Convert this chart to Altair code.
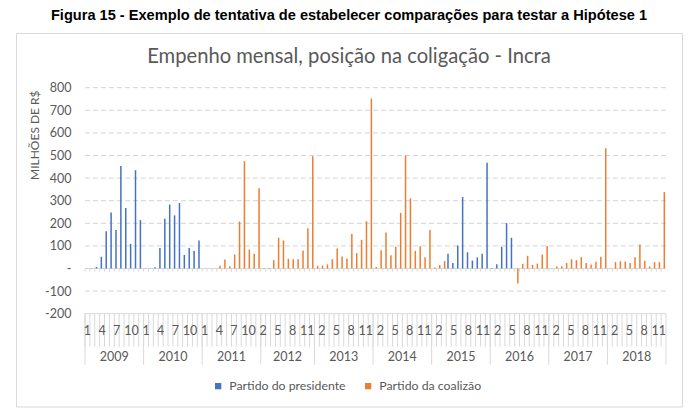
import altair as alt
import pandas as pd

# ---------------- data ----------------
anos = [2009, 2010, 2011, 2012, 2013, 2014, 2015, 2016, 2017, 2018]
meses_ano = list(range(1, 13))
meses_2012 = list(range(2, 13))

v2009 = [1, 1, 7, 52, 165, 248, 170, 453, 268, 109, 435, 214]
v2010 = [1, 1, 5, 91, 220, 283, 235, 290, 60, 91, 77, 124]
v2011 = [0, 0, 0, 12, 40, 10, 62, 208, 475, 84, 65, 355]
v2012 = [2, 2, 37, 136, 124, 43, 41, 41, 80, 178, 497]
v2013 = [12, 13, 18, 41, 88, 53, 44, 153, 68, 127, 209, 752]
v2014 = [7, 81, 159, 59, 96, 246, 500, 310, 78, 99, 50, 170]
v2015 = [4, 15, 33, 65, 24, 102, 316, 72, 35, 49, 65, 468]
v2016 = [2, 19, 96, 201, 136, -66, 21, 56, 16, 22, 62, 100]
v2017 = [1, 9, 10, 24, 41, 37, 50, 24, 18, 30, 52, 532]
v2018 = [1, 28, 32, 31, 24, 50, 106, 34, 9, 28, 28, 338]

s2009 = ["P", "P", "P", "P", "P", "P", "P", "P", "P", "P", "P", "P"]
s2010 = ["P", "P", "P", "P", "P", "P", "P", "P", "P", "P", "P", "P"]
s2011 = ["C", "C", "C", "C", "C", "C", "C", "C", "C", "C", "C", "C"]
s2012 = ["C", "C", "C", "C", "C", "C", "C", "C", "C", "C", "C"]
s2013 = ["C", "C", "C", "C", "C", "C", "C", "C", "C", "C", "C", "C"]
s2014 = ["C", "C", "C", "C", "C", "C", "C", "C", "C", "C", "C", "C"]
s2015 = ["C", "C", "C", "P", "P", "P", "P", "P", "P", "P", "P", "P"]
s2016 = ["P", "P", "P", "P", "P", "C", "C", "C", "C", "C", "C", "C"]
s2017 = ["C", "C", "C", "C", "C", "C", "C", "C", "C", "C", "C", "C"]
s2018 = ["C", "C", "C", "C", "C", "C", "C", "C", "C", "C", "C", "C"]

serie_nomes = {"P": "Partido do presidente", "C": "Partido da coalizão"}
cores = ["#4472C4", "#ED7D31"]

caption = "Figura 15 - Exemplo de tentativa de estabelecer comparações para testar a Hipótese 1"
titulo = "Empenho mensal, posição na coligação - Incra"
y_titulo = "MILHÕES DE R$"
y_ticks = [-200, -100, 0, 100, 200, 300, 400, 500, 600, 700, 800]

valores = [v2009, v2010, v2011, v2012, v2013, v2014, v2015, v2016, v2017, v2018]
series = [s2009, s2010, s2011, s2012, s2013, s2014, s2015, s2016, s2017, s2018]
meses = [meses_2012 if a == 2012 else meses_ano for a in anos]

# ---------------- tables ----------------
rows, cats, years_even, years_odd, year_bounds = [], [], [], [], []
idx = 0
for a, ms, vs, ss in zip(anos, meses, valores, series):
    keys_year = []
    for m, v, s in zip(ms, vs, ss):
        key = f"{a}-{m:02d}"
        keys_year.append(key)
        cats.append({"key": key, "mes": str(m), "idx": idx, "ano": a})
        rows.append({"key": key, "serie": serie_nomes[s], "valor": v})
        idx += 1
    year_bounds.append({"key": keys_year[0]})
    n = len(keys_year)
    if n % 2 == 0:
        years_even.append({"key": keys_year[n // 2], "ano": str(a)})
    else:
        years_odd.append({"key": keys_year[n // 2], "ano": str(a)})

df = pd.DataFrame(rows)
df_cat = pd.DataFrame(cats)
keys = list(df_cat["key"])
df_lab = df_cat[df_cat["idx"] % 3 == 0]
df_even = pd.DataFrame(years_even)
df_odd = pd.DataFrame(years_odd)
df_yb = pd.DataFrame(year_bounds)
df_last = pd.DataFrame([{"key": keys[-1]}])
one = pd.DataFrame([{"a": 1}])

W, H = 581, 226
GRAY = "#595959"
LINE = "#d9d9d9"
GRID = "#d4d4d4"
FONT = "Lato"

xs = alt.Scale(domain=keys, paddingInner=0, paddingOuter=0)


def X(band=0.5):
    return alt.X("key:N", scale=xs, axis=None, bandPosition=band)


ys = alt.Scale(domain=[-200, 800], nice=False, zero=False)

y_axis = alt.Axis(values=y_ticks, tickCount=11, grid=False,
                  domain=False, ticks=False, labelFont=FONT, labelFontSize=12.5,
                  labelColor=GRAY, labelPadding=14, labelOverlap=False,
                  labelExpr="datum.value == 0 ? '-\u00a0\u00a0' : (datum.value < 0 ? '-' + abs(datum.value) : '' + datum.value)",
                  title=y_titulo, titleFont=FONT, titleFontSize=12, titleColor=GRAY,
                  titleFontWeight="normal", titleX=-51, titleY=47, titleAngle=270,
                  titleAlign="center", titleBaseline="middle")

# dashed gridlines, one rule per labelled level (except 0 and -200)
grid_layers = [
    alt.Chart(one).mark_rule(color=GRID, strokeWidth=1, strokeDash=[5, 3]).encode(y=alt.datum(t))
    for t in y_ticks if t not in (0, -200)
]

bars = alt.Chart(df).mark_bar().encode(
    x=alt.X("key:N", scale=xs, axis=None),
    xOffset=alt.XOffset("serie:N", scale=alt.Scale(domain=[serie_nomes["P"], serie_nomes["C"]],
                                                     paddingOuter=0.63, paddingInner=0)),
    y=alt.Y("valor:Q", scale=ys, axis=y_axis),
    color=alt.Color("serie:N",
                    scale=alt.Scale(domain=[serie_nomes["P"], serie_nomes["C"]], range=cores),
                    legend=alt.Legend(orient="none", legendX=127, legendY=292, direction="horizontal",
                                      title=None, symbolType="square", symbolSize=40,
                                      symbolStrokeWidth=0, labelFont=FONT, labelFontSize=12.3,
                                      labelColor=GRAY, labelOffset=5, columnPadding=16)),
)

zero = alt.Chart(one).mark_rule(color=LINE, strokeWidth=1).encode(y=alt.datum(0))
bottom_line = alt.Chart(one).mark_rule(color=LINE, strokeWidth=1).encode(y=alt.datum(-200))
zero_ticks = alt.Chart(df_cat).mark_rule(color=LINE).encode(x=X(0), y=alt.datum(0), y2=alt.datum(-14))

sep = alt.Chart(df_cat).mark_rule(color=LINE).encode(x=X(0), y=alt.value(H), y2=alt.value(H + 33))
sep_last = alt.Chart(df_last).mark_rule(color=LINE).encode(x=X(1), y=alt.value(H), y2=alt.value(H + 51))
ysep = alt.Chart(df_yb).mark_rule(color=LINE).encode(x=X(0), y=alt.value(H), y2=alt.value(H + 51))

mes_lab = alt.Chart(df_lab).mark_text(font=FONT, fontSize=12.5, color=GRAY, baseline="middle").encode(
    x=X(0.5), y=alt.value(H + 17.5), text="mes:N")
ano_even = alt.Chart(df_even).mark_text(font=FONT, fontSize=12.5, color=GRAY, baseline="middle").encode(
    x=X(0), y=alt.value(H + 43), text="ano:N")
ano_odd = alt.Chart(df_odd).mark_text(font=FONT, fontSize=12.5, color=GRAY, baseline="middle").encode(
    x=X(0.5), y=alt.value(H + 43), text="ano:N")

box = alt.Chart(one).mark_rect(fillOpacity=0, stroke=LINE, strokeWidth=1).encode(
    x=alt.value(-68.5), x2=alt.value(597.5), y=alt.value(-54.2), y2=alt.value(319.3))
cap = alt.Chart(one).mark_text(text=caption, font="Liberation Sans", fontSize=14.6, fontWeight="bold",
                               color="#000000", baseline="middle", align="center").encode(
    x=alt.value(264), y=alt.value(-71.7))
tit = alt.Chart(one).mark_text(text=titulo, font=FONT, fontSize=20.2, color=GRAY,
                               baseline="middle", align="center").encode(
    x=alt.value(264), y=alt.value(-30.5))

chart = alt.layer(box, cap, tit, *grid_layers, zero, bottom_line, zero_ticks, bars, sep, sep_last, ysep,
                  mes_lab, ano_even, ano_odd).properties(
    width=W, height=H,
    autosize=alt.AutoSizeParams(type="none"),
    padding={"left": 77, "top": 79.7, "right": 24, "bottom": 95.3},
).configure_view(stroke=None)

chart.save("out.html", embed_options={"renderer": "svg", "actions": False})
